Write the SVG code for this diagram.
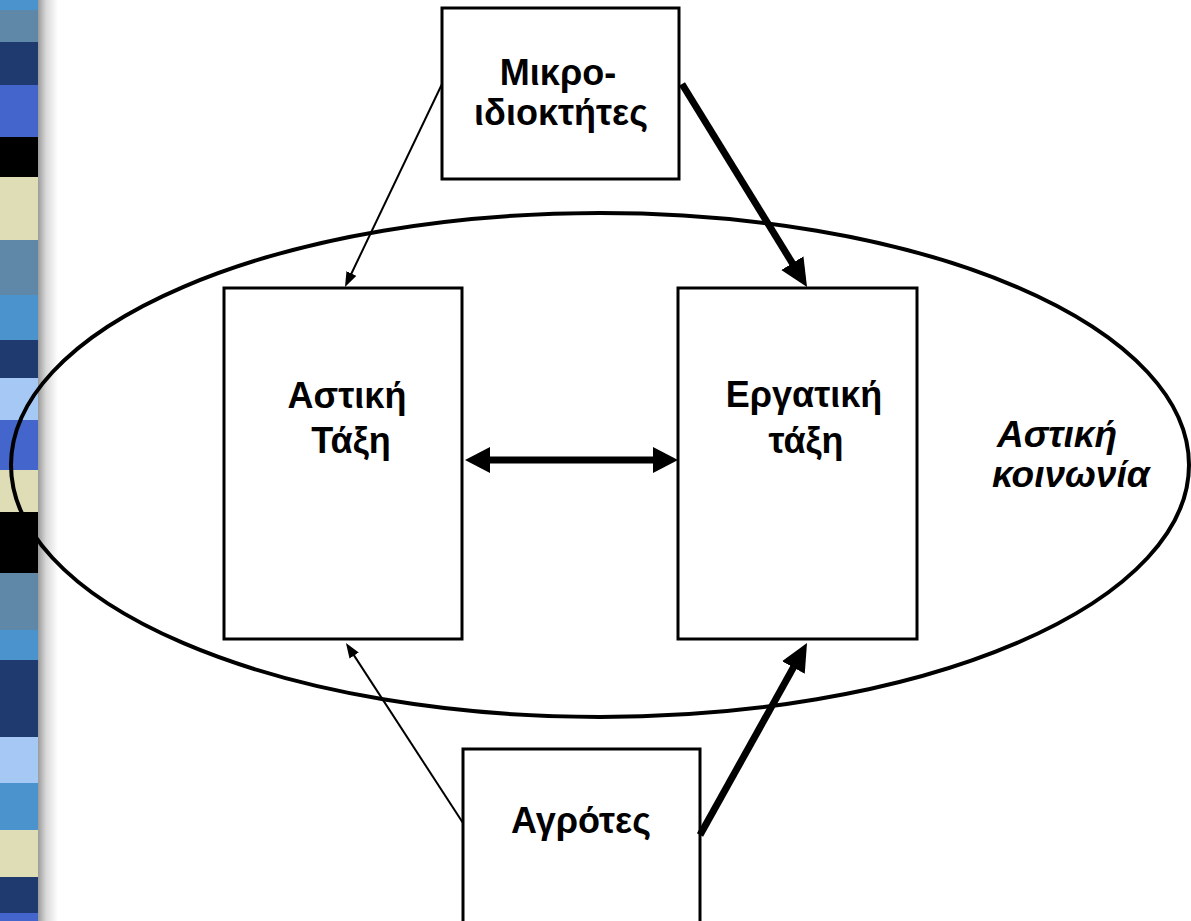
<svg xmlns="http://www.w3.org/2000/svg" width="1191" height="921" viewBox="0 0 1191 921">
<style>
.box{fill:#fff;stroke:#000;stroke-width:3}
.lbl{font-family:"Liberation Sans",Arial,sans-serif;font-weight:bold;font-size:36px;fill:#000;text-anchor:middle}
.it{font-style:italic;text-anchor:start;font-size:37px}
.thin{stroke:#000;stroke-width:2;fill:none}
.thick{stroke:#000;stroke-width:7;fill:none}
.dbl{stroke:#000;stroke-width:7;fill:none}
</style>
<defs>
<linearGradient id="shadow" x1="0" y1="0" x2="1" y2="0">
<stop offset="0" stop-color="#9a9a9a"/>
<stop offset="0.4" stop-color="#d8d8d8"/>
<stop offset="1" stop-color="#ffffff"/>
</linearGradient>
<marker id="hThin" markerUnits="userSpaceOnUse" markerWidth="16" markerHeight="12" refX="5" refY="5.5" orient="auto"><path d="M0,0 L15,5.5 L0,11 z" fill="#000"/></marker>
<marker id="hThick" markerUnits="userSpaceOnUse" markerWidth="30" markerHeight="28" refX="6" refY="13" orient="auto"><path d="M0,0 L28,13 L0,26 z" fill="#000"/></marker>
<marker id="hDbl" markerUnits="userSpaceOnUse" markerWidth="28" markerHeight="28" refX="7" refY="13" orient="auto-start-reverse"><path d="M0,0 L25,13 L0,26 z" fill="#000"/></marker>
</defs>
<rect x="0" y="0" width="1191" height="921" fill="#fff"/>
<g id="stripes">
<rect x="0" y="0" width="38" height="10" fill="#4b93cc"/>
<rect x="0" y="10" width="38" height="32" fill="#5f87a8"/>
<rect x="0" y="42" width="38" height="43" fill="#1e3a6e"/>
<rect x="0" y="85" width="38" height="52" fill="#4466cc"/>
<rect x="0" y="137" width="38" height="40" fill="#000"/>
<rect x="0" y="177" width="38" height="63" fill="#deddb5"/>
<rect x="0" y="240" width="38" height="55" fill="#5f87a8"/>
<rect x="0" y="295" width="38" height="45" fill="#4b93cc"/>
<rect x="0" y="340" width="38" height="38" fill="#1e3a6e"/>
<rect x="0" y="378" width="38" height="42" fill="#a6c8f5"/>
<rect x="0" y="420" width="38" height="50" fill="#4466cc"/>
<rect x="0" y="470" width="38" height="42" fill="#deddb5"/>
<rect x="0" y="512" width="38" height="61" fill="#000"/>
<rect x="0" y="573" width="38" height="57" fill="#5f87a8"/>
<rect x="0" y="630" width="38" height="30" fill="#4b93cc"/>
<rect x="0" y="660" width="38" height="77" fill="#1e3a6e"/>
<rect x="0" y="737" width="38" height="46" fill="#a6c8f5"/>
<rect x="0" y="783" width="38" height="47" fill="#4b93cc"/>
<rect x="0" y="830" width="38" height="47" fill="#deddb5"/>
<rect x="0" y="877" width="38" height="36" fill="#1e3a6e"/>
<rect x="0" y="913" width="38" height="8" fill="#4466cc"/>
<rect x="38" y="0" width="20" height="921" fill="url(#shadow)"/>
</g>
<g id="society">
<ellipse cx="600" cy="465" rx="589" ry="252" fill="none" stroke="#000" stroke-width="4"/>
<text class="lbl it" x="997" y="447">Αστική</text>
<text class="lbl it" x="992" y="487">κοινωνία</text>
</g>
<g id="node-mikro">
<rect class="box" x="442" y="8" width="237" height="171"/>
<text class="lbl" x="558" y="85">Μικρο-</text>
<text class="lbl" x="561" y="125">ιδιοκτήτες</text>
</g>
<g id="node-astiki">
<rect class="box" x="224" y="288" width="238" height="351"/>
<text class="lbl" x="347" y="408">Αστική</text>
<text class="lbl" x="351" y="453">Τάξη</text>
</g>
<g id="node-ergatiki">
<rect class="box" x="678" y="288" width="239" height="351"/>
<text class="lbl" x="804" y="407">Εργατική</text>
<text class="lbl" x="806" y="453">τάξη</text>
</g>
<g id="node-agrotes">
<rect class="box" x="463" y="749" width="237" height="200"/>
<text class="lbl" x="581" y="833">Αγρότες</text>
</g>
<g id="connectors">
<line class="thin" x1="442" y1="84" x2="349.3" y2="278" marker-end="url(#hThin)"/>
<line class="thick" x1="682" y1="84" x2="795.5" y2="268.3" marker-end="url(#hThick)"/>
<line class="dbl" x1="483" y1="460" x2="660" y2="460" marker-start="url(#hDbl)" marker-end="url(#hDbl)"/>
<line class="thin" x1="463" y1="823" x2="351.4" y2="651.4" marker-end="url(#hThin)"/>
<line class="thick" x1="700" y1="835" x2="796.3" y2="662.3" marker-end="url(#hThick)"/>
</g>
</svg>
